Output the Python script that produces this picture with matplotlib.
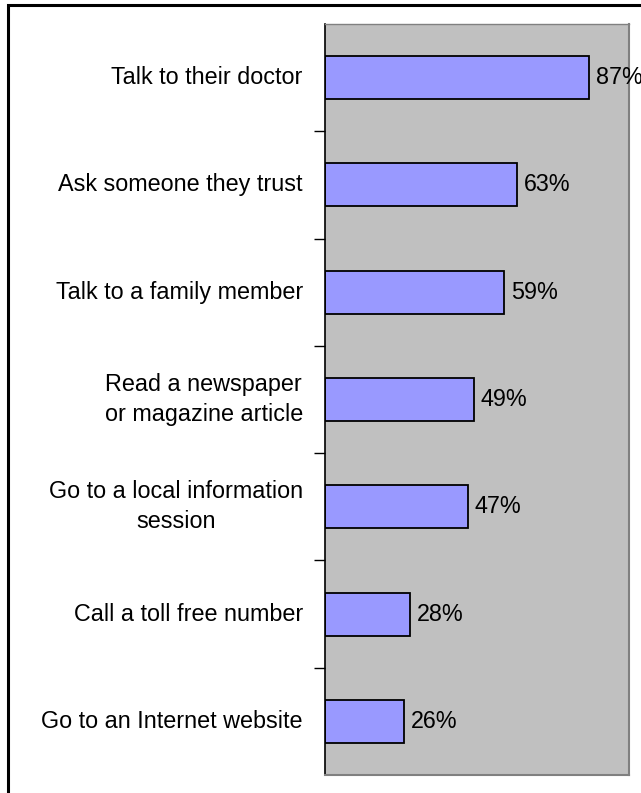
import matplotlib
matplotlib.use("Agg")
import matplotlib.pyplot as plt
from matplotlib.patches import Rectangle

# survey answers, top to bottom
categories = [
    "Talk to their doctor",
    "Ask someone they trust",
    "Talk to a family member",
    "Read a newspaper\nor magazine article",
    "Go to a local information\nsession",
    "Call a toll free number",
    "Go to an Internet website",
]
values = [87, 63, 59, 49, 47, 28, 26]

plt.rcParams['font.family'] = ['Liberation Sans', 'DejaVu Sans']
FS = 16.8

fig = plt.figure(figsize=(6.41, 7.93), dpi=100)
ax = fig.add_axes([325 / 641, 1 - 775 / 793, 304 / 641, 751 / 793])
ax.set_facecolor('#c0c0c0')

pos = list(range(len(categories)))
ax.barh(pos, values, height=0.4, color='#9999ff', edgecolor='black', linewidth=1.3)
for y, v in zip(pos, values):
    ax.annotate(f"{v}%", xy=(v, y), xytext=(5, 0), textcoords='offset points',
                va='center', ha='left', fontsize=FS, annotation_clip=False)

ax.set_xlim(0, 100)
ax.set_ylim(len(categories) - 0.5, -0.5)
ax.set_xticks([])

# ticks sit between categories, labels in the middle
ax.set_yticks([p + 0.5 for p in pos[:-1]])
ax.set_yticklabels([])
ax.tick_params(axis='y', length=8, width=1, direction='out', color='black')
for y, lab in zip(pos, categories):
    ax.annotate(lab, xy=(0, y), xytext=(-16, 0), textcoords='offset points',
                ha='right', va='center', multialignment='center', fontsize=FS,
                linespacing=1.4, annotation_clip=False)

ax.spines['left'].set_color('black')
ax.spines['left'].set_linewidth(1.2)
for s in ('right', 'bottom', 'top'):
    ax.spines[s].set_color('#808080')
    ax.spines[s].set_linewidth(1.5)
ax.spines['top'].set_linewidth(1.0)

# outer frame of the chart
fig.patches.append(Rectangle((8 / 641, -0.1), 1.2, 1 - 5 / 793 + 0.1, transform=fig.transFigure,
                             fill=False, edgecolor='black', linewidth=2.2))

fig.savefig('out.png', dpi=100)
